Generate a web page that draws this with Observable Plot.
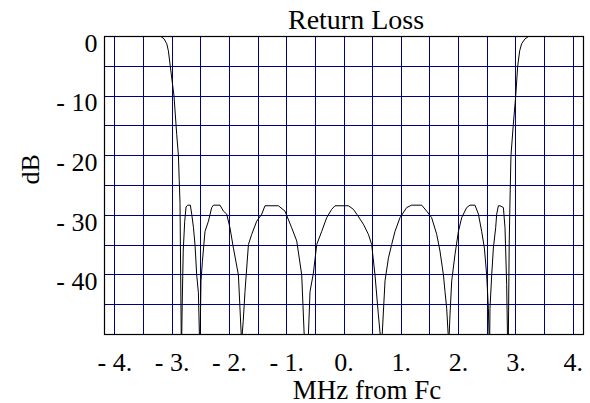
<!DOCTYPE html>
<html>
<head>
<meta charset="utf-8">
<script src="https://cdn.jsdelivr.net/npm/d3@7"></script>
<script src="https://cdn.jsdelivr.net/npm/@observablehq/plot@0.6"></script>
<style>
  html, body { margin: 0; padding: 0; background: #fff; }
  #chart svg { display: block; }
  #chart svg text { font-family: "Liberation Serif", "Times New Roman", "DejaVu Serif", serif !important; }
</style>
</head>
<body>
<div id="chart"></div>
<script>
const titleText = "Return Loss";
const xLabelText = "MHz from Fc";
const yLabelText = "dB";

const freqMHz = [-4.2, -3.194, -3.141, -3.094, -3.065, -3.037, -2.967, -2.920, -2.890, -2.876, -2.862, -2.841, -2.836, -2.832, -2.824, -2.806, -2.780, -2.757, -2.728, -2.682, -2.658, -2.628, -2.600, -2.571, -2.541, -2.524, -2.519, -2.510, -2.496, -2.471, -2.426, -2.366, -2.309, -2.279, -2.164, -2.105, -2.047, -1.990, -1.930, -1.843, -1.794, -1.787, -1.777, -1.759, -1.728, -1.668, -1.611, -1.524, -1.436, -1.379, -1.145, -1.030, -0.913, -0.825, -0.738, -0.695, -0.660, -0.621, -0.593, -0.534, -0.476, -0.389, -0.302, -0.215, -0.157, 0.077, 0.164, 0.222, 0.339, 0.426, 0.483, 0.541, 0.600, 0.632, 0.645, 0.667, 0.716, 0.775, 0.832, 0.890, 0.977, 1.094, 1.181, 1.356, 1.443, 1.530, 1.618, 1.675, 1.735, 1.763, 1.792, 1.818, 1.827, 1.836, 1.850, 1.880, 1.937, 1.997, 2.054, 2.141, 2.199, 2.286, 2.346, 2.403, 2.450, 2.490, 2.520, 2.531, 2.537, 2.543, 2.548, 2.578, 2.607, 2.647, 2.665, 2.695, 2.723, 2.782, 2.810, 2.839, 2.853, 2.861, 2.869, 2.883, 2.897, 2.914, 2.953, 2.997, 3.031, 3.066, 3.101, 3.159, 3.218, 4.2];

const returnLossDb = [0, 0, -0.4, -1.2, -2.4, -4.6, -10, -16.4, -20, -24, -28, -50, -56, -50, -45, -36, -31, -28.6, -28.3, -28.3, -29.8, -32, -35, -40, -43, -50, -56, -50, -41, -37.7, -32.7, -31, -28.7, -28.3, -28.3, -29.3, -29.8, -32.1, -35.5, -40, -50, -56, -50, -47.8, -42.8, -34.9, -33.2, -31, -29.8, -28.4, -28.4, -29.3, -32.1, -34.3, -40, -50, -56, -50, -42.8, -39.7, -34.9, -32.7, -30.4, -29, -28.4, -28.4, -29, -29.8, -31.5, -33.2, -34.9, -40, -46.7, -50, -56, -50, -41, -37.2, -34.9, -32.7, -30.4, -28.7, -28.3, -28.3, -29.3, -30.4, -33.2, -36, -40, -42.8, -45.6, -50, -56, -50, -46.7, -41, -36.6, -32.7, -30.4, -28.7, -28.3, -28.3, -29.8, -32.7, -35.5, -40, -45.6, -50, -56, -50, -45.6, -40, -35.5, -32.1, -29.8, -28.4, -28.4, -28.7, -32.1, -41.6, -50, -56, -50, -35, -27.6, -20, -15, -10, -5, -2.4, -1.2, -0.4, 0, 0];

const xTicks = [-4, -3, -2, -1, 0, 1, 2, 3, 4];
const yTicks = [0, -10, -20, -30, -40];
const xGrid = [-4, -3.5, -3, -2.5, -2, -1.5, -1, -0.5, 0, 0.5, 1, 1.5, 2, 2.5, 3, 3.5, 4];
const yGrid = [-5, -10, -15, -20, -25, -30, -35, -40, -45];

const data = freqMHz.map((f, i) => ({f, db: returnLossDb[i]}));
const fmtX = d => d < 0 ? "- " + (-d) + "." : d + ".";
const fmtY = d => d < 0 ? "- " + (-d) : String(d);
const serif = "Liberation Serif";

const chart = Plot.plot({
  width: 590,
  height: 403,
  marginLeft: 104,
  marginRight: 7,
  marginTop: 36,
  marginBottom: 69,
  style: {fontFamily: serif, fontSize: "26px", background: "#fff", color: "#000"},
  x: {domain: [-4.18, 4.18]},
  y: {domain: [-50, 0]},
  marks: [
    Plot.ruleX(xGrid, {stroke: "#000080", strokeWidth: 1, shapeRendering: "crispEdges"}),
    Plot.ruleY(yGrid, {stroke: "#000080", strokeWidth: 1, shapeRendering: "crispEdges"}),
    Plot.line(data, {x: "f", y: "db", stroke: "#000", strokeWidth: 1, clip: true}),
    Plot.frame({stroke: "#000", strokeWidth: 1.2}),
    Plot.axisX(xTicks, {tickFormat: fmtX, tickSize: 0, tickPadding: 18, label: null, fontSize: 26, fontFamily: serif, fill: "#000"}),
    Plot.axisY(yTicks, {tickFormat: fmtY, tickSize: 0, tickPadding: 7, dy: 7, label: null, fontSize: 26, fontFamily: serif, fill: "#000"}),
    Plot.text([titleText], {frameAnchor: "top", lineAnchor: "bottom", dx: 12, dy: -8, fontSize: 28, fontFamily: serif, fill: "#000"}),
    Plot.text([xLabelText], {frameAnchor: "bottom", lineAnchor: "bottom", dx: 23, dy: 64, fontSize: 27, fontFamily: serif, fill: "#000"}),
    Plot.text([yLabelText], {frameAnchor: "left", lineAnchor: "bottom", rotate: -90, dx: -66, dy: -1, fontSize: 26, fontFamily: serif, fill: "#000"})
  ]
});
document.getElementById("chart").appendChild(chart);
</script>
</body>
</html>
